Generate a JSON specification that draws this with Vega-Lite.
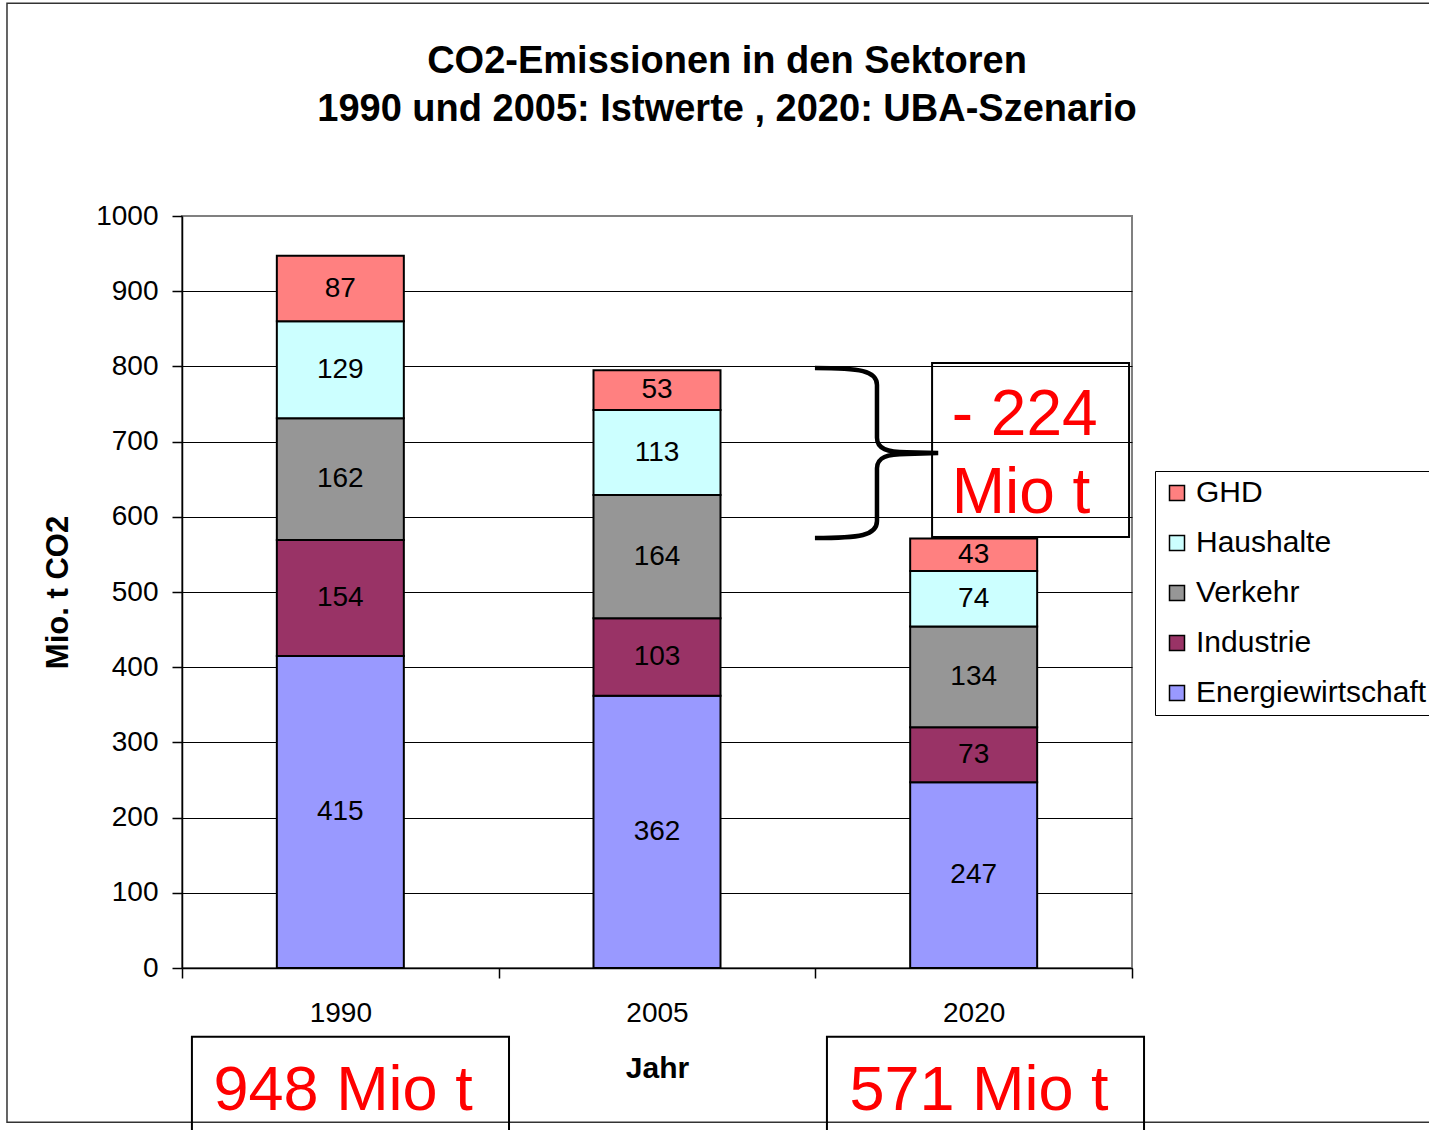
{
  "$schema": "https://vega.github.io/schema/vega-lite/v6.json",
  "width": 950,
  "height": 752,
  "autosize": {"type": "none"},
  "padding": {"left": 182, "top": 216, "right": 297, "bottom": 162},
  "background": "white",
  "config": {
    "font": "Liberation Sans",
    "view": {"stroke": "#808080", "strokeWidth": 2}
  },
  "title": {
    "text": ["CO2-Emissionen in den Sektoren", "1990 und 2005: Istwerte , 2020: UBA-Szenario"],
    "font": "Liberation Sans",
    "fontSize": 38,
    "fontWeight": "bold",
    "color": "black",
    "anchor": "middle",
    "dx": 70,
    "offset": -156.5,
    "baseline": "alphabetic",
    "lineHeight": 48
  },
  "layer": [
    {
      "data": {"values": [{"rahmen": "Diagrammfläche"}]},
      "mark": {"type": "rect", "fill": "white", "fillOpacity": 0, "stroke": "#333333", "strokeWidth": 1.5},
      "encoding": {
        "x": {"datum": 1974.21},
        "x2": {"datum": 2100},
        "y": {"datum": 1283},
        "y2": {"datum": -205}
      }
    },
    {
      "data": {
        "values": [
          {"jahr": 1990, "sektor": "Energiewirtschaft", "wert": 415},
          {"jahr": 1990, "sektor": "Industrie", "wert": 154},
          {"jahr": 1990, "sektor": "Verkehr", "wert": 162},
          {"jahr": 1990, "sektor": "Haushalte", "wert": 129},
          {"jahr": 1990, "sektor": "GHD", "wert": 87},
          {"jahr": 2005, "sektor": "Energiewirtschaft", "wert": 362},
          {"jahr": 2005, "sektor": "Industrie", "wert": 103},
          {"jahr": 2005, "sektor": "Verkehr", "wert": 164},
          {"jahr": 2005, "sektor": "Haushalte", "wert": 113},
          {"jahr": 2005, "sektor": "GHD", "wert": 53},
          {"jahr": 2020, "sektor": "Energiewirtschaft", "wert": 247},
          {"jahr": 2020, "sektor": "Industrie", "wert": 73},
          {"jahr": 2020, "sektor": "Verkehr", "wert": 134},
          {"jahr": 2020, "sektor": "Haushalte", "wert": 74},
          {"jahr": 2020, "sektor": "GHD", "wert": 43}
        ]
      },
      "transform": [
        {"window": [{"op": "row_number", "as": "nr"}], "groupby": ["jahr"]}
      ],
      "layer": [
        {
          "mark": {"type": "bar", "width": 127, "stroke": "black", "strokeWidth": 2},
          "encoding": {
            "x": {
              "field": "jahr",
              "type": "quantitative",
              "scale": {"domain": [1982.5, 2027.5], "nice": false, "zero": false, "padding": 0},
              "axis": {
                "values": [1982.5, 1990, 1997.5, 2005, 2012.5, 2020, 2027.5],
                "labelExpr": "indexof([1990, 2005, 2020], datum.value) >= 0 ? format(datum.value, 'd') : ''",
                "tickOpacity": {"condition": {"test": "indexof([1990, 2005, 2020], datum.value) >= 0", "value": 0}, "value": 1},
                "title": "Jahr",
                "titleFontSize": 30,
                "titleFontWeight": "bold",
                "titleColor": "black",
                "titlePadding": 26,
                "labelFontSize": 28,
                "labelColor": "black",
                "labelPadding": 21,
                "labelOverlap": false,
                "labelFlush": false,
                "tickSize": 10,
                "tickColor": "black",
                "tickWidth": 1.5,
                "domainColor": "black",
                "domainWidth": 1.5,
                "grid": false
              }
            },
            "y": {
              "field": "wert",
              "type": "quantitative",
              "stack": "zero",
              "scale": {"domain": [0, 1000], "nice": false, "padding": 0},
              "axis": {
                "values": [0, 100, 200, 300, 400, 500, 600, 700, 800, 900, 1000],
                "format": "d",
                "title": "Mio. t  CO2",
                "titleFontSize": 31,
                "titleFontWeight": "bold",
                "titleColor": "black",
                "titlePadding": 21,
                "labelFontSize": 28,
                "labelColor": "black",
                "labelPadding": 14,
                "tickSize": 10,
                "tickColor": "black",
                "tickWidth": 1.5,
                "domainColor": "black",
                "domainWidth": 1.5,
                "grid": true,
                "gridColor": {"condition": {"test": "datum.value == 1000", "value": "#808080"}, "value": "black"},
                "gridWidth": 1
              }
            },
            "color": {
              "field": "sektor",
              "type": "nominal",
              "scale": {
                "domain": ["GHD", "Haushalte", "Verkehr", "Industrie", "Energiewirtschaft"],
                "range": ["#FF8080", "#CCFFFF", "#969696", "#993366", "#9999FF"]
              },
              "legend": {
                "title": null,
                "orient": "none",
                "legendX": 973,
                "legendY": 255,
                "strokeColor": "black",
                "fillColor": "white",
                "padding": 7,
                "symbolType": "square",
                "symbolSize": 225,
                "symbolStrokeColor": "black",
                "symbolStrokeWidth": 1.5,
                "labelFontSize": 30,
                "labelColor": "black",
                "labelOffset": 4,
                "labelLimit": 0,
                "rowPadding": 20
              }
            },
            "order": {"field": "nr", "sort": "ascending"}
          }
        },
        {
          "mark": {"type": "text", "fontSize": 28, "color": "black", "baseline": "middle", "align": "center"},
          "encoding": {
            "x": {"field": "jahr", "type": "quantitative"},
            "y": {"field": "wert", "type": "quantitative", "stack": "zero", "bandPosition": 0.5},
            "detail": {"field": "sektor"},
            "order": {"field": "nr", "sort": "ascending"},
            "text": {"field": "wert", "type": "quantitative"}
          }
        }
      ]
    },
    {
      "data": {"values": [{"label": "Rückgang"}]},
      "mark": {"type": "rect", "fill": "white", "fillOpacity": 0, "stroke": "black", "strokeWidth": 2},
      "encoding": {
        "x": {"datum": 2018.03},
        "x2": {"datum": 2027.36},
        "y": {"datum": 804.5},
        "y2": {"datum": 573.1}
      }
    },
    {
      "data": {"values": [{"label": "1990"}]},
      "mark": {"type": "rect", "fill": "white", "fillOpacity": 0, "stroke": "black", "strokeWidth": 2},
      "encoding": {
        "x": {"datum": 1982.97},
        "x2": {"datum": 1997.99},
        "y": {"datum": -91.5},
        "y2": {"datum": -300}
      }
    },
    {
      "data": {"values": [{"label": "2020"}]},
      "mark": {"type": "rect", "fill": "white", "fillOpacity": 0, "stroke": "black", "strokeWidth": 2},
      "encoding": {
        "x": {"datum": 2013.05},
        "x2": {"datum": 2028.07},
        "y": {"datum": -91.5},
        "y2": {"datum": -300}
      }
    },
    {
      "data": {"values": [{"label": "Klammer"}]},
      "mark": {
        "type": "point",
        "shape": "M-0.73,-1 C-0.2,-1 0,-0.97 0,-0.8 L0,-0.18 C0,-0.05 0.12,-0.01 0.35,-0.01 L0.72,0 L0.35,0.01 C0.12,0.01 0,0.05 0,0.18 L0,0.8 C0,0.97 -0.2,1 -0.73,1",
        "size": 28900,
        "filled": false,
        "stroke": "black",
        "strokeWidth": 4.5,
        "opacity": 1
      },
      "encoding": {
        "x": {"datum": 2015.42},
        "y": {"datum": 684.8}
      }
    },
    {
      "data": {"values": [{"label": "- 224"}]},
      "mark": {"type": "text", "fontSize": 64, "color": "red", "align": "left", "baseline": "alphabetic"},
      "encoding": {
        "x": {"datum": 2018.96},
        "y": {"datum": 708.8},
        "text": {"field": "label"}
      }
    },
    {
      "data": {"values": [{"label": "Mio t"}]},
      "mark": {"type": "text", "fontSize": 64, "color": "red", "align": "left", "baseline": "alphabetic"},
      "encoding": {
        "x": {"datum": 2018.96},
        "y": {"datum": 604.6},
        "text": {"field": "label"}
      }
    },
    {
      "data": {"values": [{"label": "948 Mio t"}]},
      "mark": {"type": "text", "fontSize": 63, "color": "red", "align": "center", "baseline": "alphabetic"},
      "encoding": {
        "x": {"datum": 1990.13},
        "y": {"datum": -188.8},
        "text": {"field": "label"}
      }
    },
    {
      "data": {"values": [{"label": "571 Mio t"}]},
      "mark": {"type": "text", "fontSize": 63, "color": "red", "align": "center", "baseline": "alphabetic"},
      "encoding": {
        "x": {"datum": 2020.25},
        "y": {"datum": -188.8},
        "text": {"field": "label"}
      }
    }
  ]
}
